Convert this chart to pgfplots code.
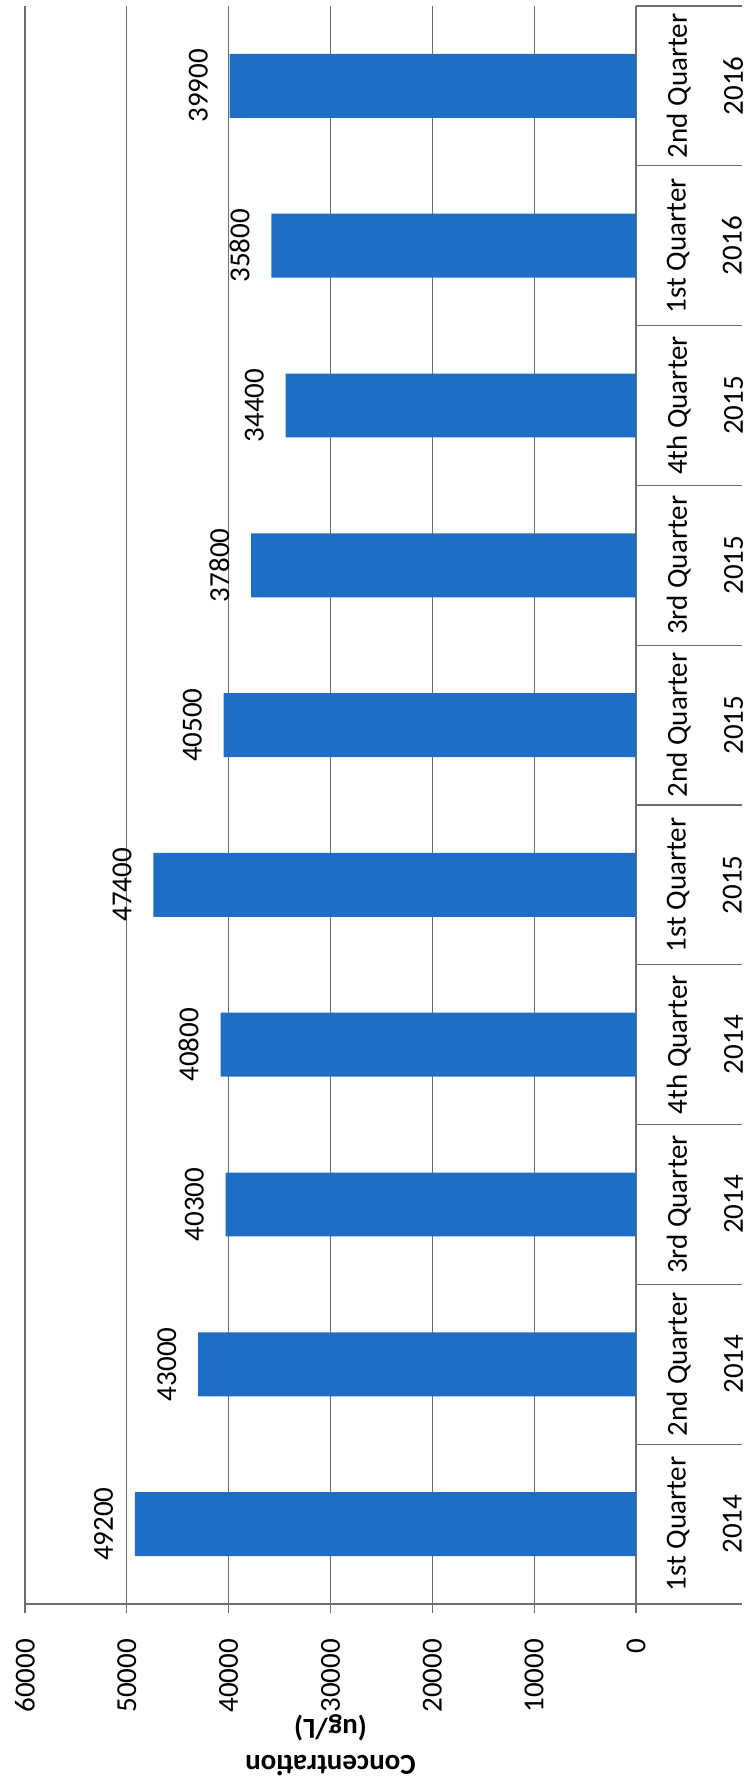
\documentclass[border=0pt]{standalone}
\usepackage{pgfplots}
\pgfplotsset{compat=1.18}
\usepackage{pgfplotstable}
\usepackage{fontspec}
\setmainfont{Carlito}
\definecolor{barblue}{RGB}{30,110,200}
\definecolor{gridgray}{RGB}{110,110,110}
\pgfplotstableread{
idx val
0 49200
1 43000
2 40300
3 40800
4 47400
5 40500
6 37800
7 34400
8 35800
9 39900
}\datatable
\begin{document}
\begin{tikzpicture}[x=1pt,y=1pt]
\path[use as bounding box] (0,0) rectangle (373.5,892.5);
\begin{axis}[
  at={(12.5pt,90.5pt)}, anchor=south west,
  scale only axis, width=305.5pt, height=799pt,
  xbar, bar width=0.4,
  x dir=reverse,
  xmin=0, xmax=60000, ymin=-0.5, ymax=9.5,
  enlargelimits=false,
  scaled x ticks=false,
  axis line style={draw=none},
  xtick={0,10000,...,60000},
  xticklabels={0,10000,20000,30000,40000,50000,60000},
  xtick pos=left,
  xtick align=outside,
  xtick style={gridgray, line width=0.6pt, /pgfplots/major tick length=4.5pt},
  xmajorgrids,
  major grid style={gridgray, line width=0.6pt},
  xticklabel shift=13pt,
  xticklabel style={font=\fontsize{14.5}{17}\selectfont, rotate=90, anchor=east, inner sep=0pt},
  ytick={-0.5,0.5,...,9.5},
  y tick label as interval,
  yticklabels={{1st Quarter\\2014},{2nd Quarter\\2014},{3rd Quarter\\2014},{4th Quarter\\2014},{1st Quarter\\2015},{2nd Quarter\\2015},{3rd Quarter\\2015},{4th Quarter\\2015},{1st Quarter\\2016},{2nd Quarter\\2016}},
  ytick pos=right,
  yticklabel pos=right,
  ytick align=outside,
  ytick style={gridgray, line width=0.6pt, /pgfplots/major tick length=53pt},
  yticklabel shift=10.9pt,
  yticklabel style={font=\fontsize{14.5}{28}\selectfont, rotate=90, anchor=north, align=center, inner sep=0pt},
  extra y ticks={-0.5},
  extra y tick labels={},
  extra y tick style={grid=major, ytick style={/pgfplots/major tick length=0pt}},
  xlabel={Concentration\\(ug/L)},
  xlabel style={at={(axis description cs:0.5,-0.0688)}, anchor=south, rotate=180, inner sep=0pt, font=\bfseries\fontsize{14.5}{18}\selectfont, align=center},
  nodes near coords,
  point meta=explicit symbolic,
  every node near coord/.append style={font=\fontsize{14.5}{17}\selectfont, rotate=90, anchor=south, inner sep=0pt, outer ysep=10.9pt, text=black},
  clip=false,
]
\addplot[fill=barblue, draw=none] table[x=val, y=idx, meta=val] {\datatable};
\end{axis}
\end{tikzpicture}
\end{document}
